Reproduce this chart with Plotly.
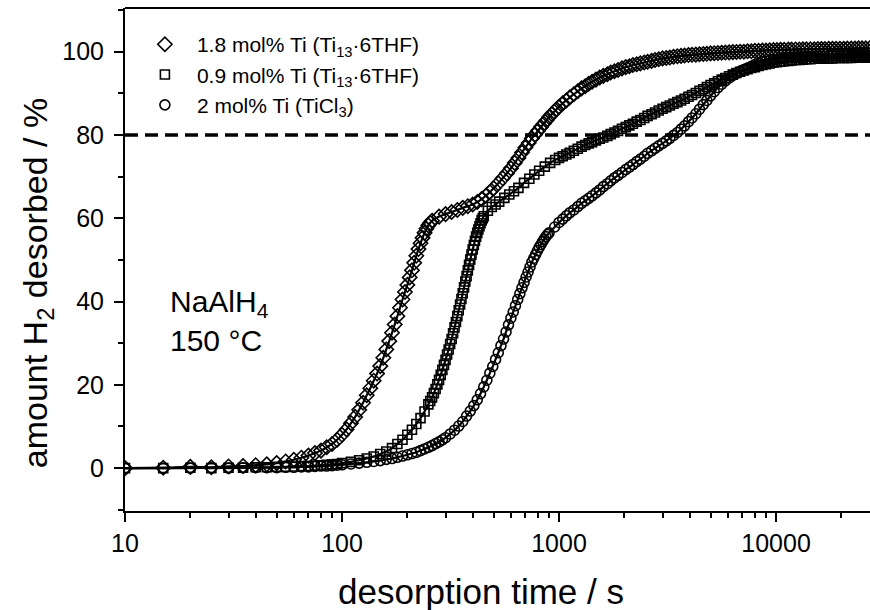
import plotly.graph_objects as go

# ---- measured series -------------------------------------------------------
# early part of each run (up to ~1000 s)

# 1.8 mol% Ti (Ti13·6THF)
time_d = [10, 15, 20, 25, 30, 35, 40, 45, 50, 55, 60, 65, 70, 75, 80, 85, 90, 95, 100,
          105, 110, 115, 120, 125, 130, 135, 140, 145, 150, 155, 160, 165, 170, 175, 180,
          185, 190, 195, 200, 205, 210, 215, 220, 225, 230, 235, 240, 245, 250, 255, 260,
          280, 300, 320, 340, 360, 380, 400, 420, 440, 460, 480, 500,
          525, 550, 575, 600, 625, 650, 675, 700, 725, 750, 775, 800, 825, 850, 875, 900,
          925, 950, 975]
desorbed_d = [0.0, 0.1, 0.3, 0.2, 0.4, 0.5, 0.7, 0.9, 1.2, 1.6, 2.0, 2.5, 3.0, 3.6, 4.2, 5.0, 5.8, 6.8, 8.0,
              9.3, 10.8, 12.3, 14.0, 15.7, 17.5, 19.2, 21.0, 22.7, 24.5, 26.5, 28.5, 30.5, 32.5, 34.5, 36.5,
              38.5, 40.5, 42.3, 44.0, 45.8, 47.5, 49.3, 51.0, 52.6, 54.0, 55.3, 56.5, 57.5, 58.3, 58.9, 59.4,
              60.4, 61.0, 61.5, 62.0, 62.5, 62.9, 63.3, 63.9, 64.6, 65.4, 66.3, 67.2,
              68.4, 69.6, 70.8, 72.0, 73.3, 74.5, 75.8, 77.0, 78.1, 79.2, 80.1, 81.0, 81.9, 82.7, 83.5, 84.3,
              85.0, 85.6, 86.2]

# 0.9 mol% Ti (Ti13·6THF)
time_s = [10, 15, 20, 25, 30, 35, 40, 45, 50, 55, 60, 65, 70, 75, 80, 85, 90, 95, 100,
          110, 120, 130, 140, 150, 160, 170, 180, 190, 200, 210, 220, 230, 240,
          250, 255, 260, 265, 270, 275, 280, 285, 290, 295, 300, 305, 310, 315, 320, 325,
          330, 335, 340, 345, 350, 355, 360, 365, 370, 375, 380, 385, 390, 395, 400, 405,
          410, 415, 420, 425, 430, 435, 440, 445, 450,
          470, 490, 510, 530, 560, 590, 620, 650, 690, 730, 770, 810, 860, 910, 960]
desorbed_s = [0.0, 0.0, 0.1, 0.0, 0.1, 0.1, 0.2, 0.2, 0.3, 0.3, 0.4, 0.5, 0.5, 0.6, 0.7, 0.8, 0.9, 1.0, 1.2,
              1.5, 1.9, 2.3, 2.8, 3.4, 4.0, 4.8, 5.8, 6.8, 8.0, 9.2, 10.6, 12.0, 13.6,
              15.3, 16.1, 17.0, 18.0, 19.0, 20.1, 21.2, 22.4, 23.6, 24.8, 26.0, 27.3, 28.5, 29.8, 31.0, 32.4,
              33.8, 35.1, 36.5, 37.9, 39.3, 40.6, 42.0, 43.4, 44.8, 46.1, 47.5, 48.8, 50.1, 51.3, 52.5, 53.6,
              54.6, 55.6, 56.5, 57.3, 58.1, 58.8, 59.5, 60.0, 60.5,
              61.8, 62.7, 63.3, 64.0, 64.9, 65.7, 66.5, 67.3, 68.5, 69.5, 70.5, 71.4, 72.4, 73.3, 74.0]

# 2 mol% Ti (TiCl3)
time_c = [10, 15, 20, 25, 30, 35, 40, 45, 50, 55, 60, 65, 70, 75, 80, 85, 90, 95, 100,
          110, 120, 130, 140, 150, 160, 170, 180, 190, 200, 210, 220, 230, 240, 250, 260,
          270, 280, 290, 300,
          315, 330, 345, 360, 375, 390, 405, 420, 435, 450, 465, 480, 495, 510, 525, 540,
          555, 570, 585, 600, 615, 630, 645, 660, 675, 690, 705, 720, 735, 750, 765, 780,
          795, 810, 825, 840, 855, 870, 885, 900, 955]
desorbed_c = [0.0, 0.0, 0.0, 0.1, 0.0, 0.1, 0.1, 0.1, 0.1, 0.2, 0.2, 0.3, 0.3, 0.4, 0.5, 0.5, 0.6, 0.7, 0.8,
              1.0, 1.2, 1.4, 1.6, 1.8, 2.1, 2.3, 2.6, 2.9, 3.2, 3.5, 3.8, 4.2, 4.6, 5.0, 5.4,
              5.9, 6.3, 6.8, 7.3,
              8.2, 9.1, 10.1, 11.2, 12.5, 13.7, 15.0, 16.4, 17.9, 19.5, 21.1, 22.8, 24.4, 26.1, 27.7, 29.4,
              31.0, 32.7, 34.4, 36.0, 37.5, 39.0, 40.5, 41.9, 43.3, 44.6, 45.9, 47.1, 48.3, 49.5, 50.4, 51.3,
              52.2, 53.0, 53.7, 54.4, 55.0, 55.6, 56.1, 56.5, 57.9]

# late part of each run (from 1000 s), common time base
time_late = [1000, 1040, 1080, 1120, 1170, 1220, 1270, 1320, 1370, 1420, 1480, 1540, 1600, 1670,
             1730, 1800, 1870, 1950, 2030, 2110, 2190, 2280, 2370, 2470, 2560, 2670, 2770, 2880,
             3000, 3120, 3240, 3370, 3510, 3650, 3790, 3950, 4100, 4270, 4440, 4620, 4800, 4990,
             5190, 5400, 5620, 5840, 6080, 6320, 6570, 6830, 7110, 7390, 7690, 7990, 8310, 8650,
             8990, 9350, 9730, 10100, 10500, 10900, 11400, 11800, 12300, 12800, 13300, 13800,
             14400, 15000, 15600, 16200, 16800, 17500, 18200, 18900, 19700, 20500, 21300, 22200,
             23100, 24000, 24900, 25900, 27000, 28000]
desorbed_d_late = [86.8, 87.6, 88.3, 89.0, 89.8, 90.5, 91.2, 91.7, 92.3, 92.8, 93.3, 93.8, 94.2, 94.6,
                   95.0, 95.3, 95.6, 96.0, 96.3, 96.5, 96.8, 97.0, 97.2, 97.4, 97.6, 97.8, 98.0, 98.2,
                   98.4, 98.5, 98.6, 98.8, 98.9, 99.0, 99.1, 99.2, 99.25, 99.3, 99.4, 99.45, 99.5, 99.6,
                   99.65, 99.7, 99.75, 99.8, 99.85, 99.9, 99.95, 100.0, 100.0, 100.1, 100.1, 100.2, 100.2, 100.3,
                   100.3, 100.35, 100.4, 100.4, 100.45, 100.45, 100.5, 100.5, 100.55, 100.55, 100.6, 100.6,
                   100.6, 100.6, 100.65, 100.65, 100.65, 100.7, 100.7, 100.7, 100.7, 100.7, 100.75, 100.75,
                   100.75, 100.8, 100.8, 100.8, 100.8, 100.8]
desorbed_s_late = [74.5, 74.9, 75.3, 75.7, 76.2, 76.7, 77.2, 77.6, 78.0, 78.3, 78.7, 79.1, 79.4, 79.8,
                   80.2, 80.6, 81.0, 81.5, 81.9, 82.3, 82.7, 83.2, 83.6, 84.1, 84.6, 85.0, 85.4, 85.9,
                   86.3, 86.7, 87.1, 87.5, 87.9, 88.3, 88.7, 89.2, 89.6, 90.1, 90.6, 91.0, 91.5, 92.0,
                   92.4, 92.9, 93.3, 93.7, 94.1, 94.5, 94.9, 95.2, 95.5, 95.8, 96.1, 96.3, 96.6, 96.8,
                   97.0, 97.2, 97.4, 97.5, 97.6, 97.7, 97.8, 97.9, 98.0, 98.0, 98.1, 98.2,
                   98.2, 98.3, 98.3, 98.3, 98.4, 98.4, 98.4, 98.5, 98.5, 98.5, 98.5, 98.5,
                   98.6, 98.6, 98.6, 98.6, 98.6, 98.6]
desorbed_c_late = [59.0, 59.8, 60.6, 61.3, 62.0, 62.8, 63.6, 64.2, 64.8, 65.4, 66.1, 66.8, 67.6, 68.3,
                   69.0, 69.7, 70.3, 71.0, 71.7, 72.3, 72.9, 73.6, 74.2, 74.9, 75.6, 76.2, 76.8, 77.4,
                   78.0, 78.6, 79.2, 79.9, 80.6, 81.4, 82.2, 83.2, 84.1, 85.1, 86.2, 87.3, 88.3, 89.4,
                   90.4, 91.4, 92.2, 93.0, 93.7, 94.3, 94.8, 95.3, 95.7, 96.1, 96.5, 96.9, 97.2, 97.5,
                   97.7, 97.9, 98.1, 98.2, 98.3, 98.4, 98.5, 98.6, 98.6, 98.7, 98.7, 98.8,
                   98.8, 98.9, 98.9, 98.9, 98.9, 99.0, 99.0, 99.0, 99.0, 99.0, 99.0, 99.1,
                   99.1, 99.1, 99.1, 99.1, 99.1, 99.1]

series_names = ["1.8 mol% Ti (Ti<sub>13</sub>·6THF)",
                "0.9 mol% Ti (Ti<sub>13</sub>·6THF)",
                "2 mol% Ti (TiCl<sub>3</sub>)"]
series_symbols = ["diamond-open", "square-open", "circle-open"]
series_sizes = [11, 9, 10]

reference_level = 80          # dashed guide line, % desorbed
x_tick_values = [10, 100, 1000, 10000]
x_tick_labels = ["10", "100", "1000", "10000"]
y_tick_values = [0, 20, 40, 60, 80, 100]
x_title = "desorption time / s"
y_title = "amount H<sub>2</sub> desorbed / %"

FONT = "Liberation Sans, Arial, Helvetica, sans-serif"

series = [(time_d + time_late, desorbed_d + desorbed_d_late),
          (time_s + time_late, desorbed_s + desorbed_s_late),
          (time_c + time_late, desorbed_c + desorbed_c_late)]

fig = go.Figure()

# fitted curves (thin solid lines)
for t, v in series:
    fig.add_trace(go.Scatter(x=t, y=v, mode="lines", showlegend=False,
                             line=dict(color="black", width=2.2, shape="spline"),
                             hoverinfo="skip"))

# measured points (open symbols)
for (t, v), name, sym, size in zip(series, series_names, series_symbols, series_sizes):
    fig.add_trace(go.Scatter(x=t, y=v, mode="markers", name=name,
                             marker=dict(symbol=sym, size=size, color="black",
                                         line=dict(color="black", width=1.6))))

# dashed 80 % line
fig.add_shape(type="line", xref="paper", x0=0, x1=1, yref="y",
              y0=reference_level, y1=reference_level,
              line=dict(color="black", width=3.5, dash="13px,7px"))
# top frame
fig.add_shape(type="line", xref="paper", x0=0, x1=1, yref="paper", y0=1, y1=1,
              line=dict(color="black", width=2))

fig.add_annotation(x=0.058, y=0.378, xref="paper", yref="paper", xanchor="left", yanchor="middle",
                   text="NaAlH<sub>4</sub><br>150 °C", showarrow=False, align="left",
                   font=dict(family=FONT, size=30, color="black"))

# axis titles
fig.add_annotation(x=0.478, y=-0.161, xref="paper", yref="paper", xanchor="center", yanchor="middle",
                   text=x_title, showarrow=False, font=dict(family=FONT, size=35, color="black"))
fig.add_annotation(x=-0.118, y=0.453, xref="paper", yref="paper", xanchor="center", yanchor="middle",
                   text=y_title, textangle=-90, showarrow=False,
                   font=dict(family=FONT, size=34, color="black"))

minor_x = [d * 10 ** k for k in range(1, 5) for d in range(2, 10)]

fig.update_layout(
    width=870, height=610,
    margin=dict(l=125, r=0, t=8, b=99),
    paper_bgcolor="white", plot_bgcolor="white",
    font=dict(family=FONT, size=25, color="black"),
    showlegend=True,
    legend=dict(x=0.0106, y=0.968, xanchor="left", yanchor="top",
                bgcolor="rgba(0,0,0,0)", font=dict(size=21, family=FONT),
                itemwidth=54, tracegroupgap=0, itemclick=False),
    xaxis=dict(type="log", range=[1, 4.433],
               tickvals=x_tick_values, ticktext=x_tick_labels,
               ticks="outside", ticklen=9, tickwidth=2, tickcolor="black",
               showline=True, linewidth=2, linecolor="black",
               showgrid=False, zeroline=False,
               minor=dict(tickvals=minor_x, ticks="outside", ticklen=5, tickwidth=2,
                          tickcolor="black", showgrid=False)),
    yaxis=dict(range=[-10.3, 110.5],
               tickvals=y_tick_values,
               ticks="outside", ticklen=9, tickwidth=2, tickcolor="black",
               ticklabelstandoff=5,
               showline=True, linewidth=2, linecolor="black",
               showgrid=False, zeroline=False,
               minor=dict(dtick=10, tick0=0, ticks="outside", ticklen=5, tickwidth=2,
                          tickcolor="black", showgrid=False)),
)

fig.write_html("out.html")
